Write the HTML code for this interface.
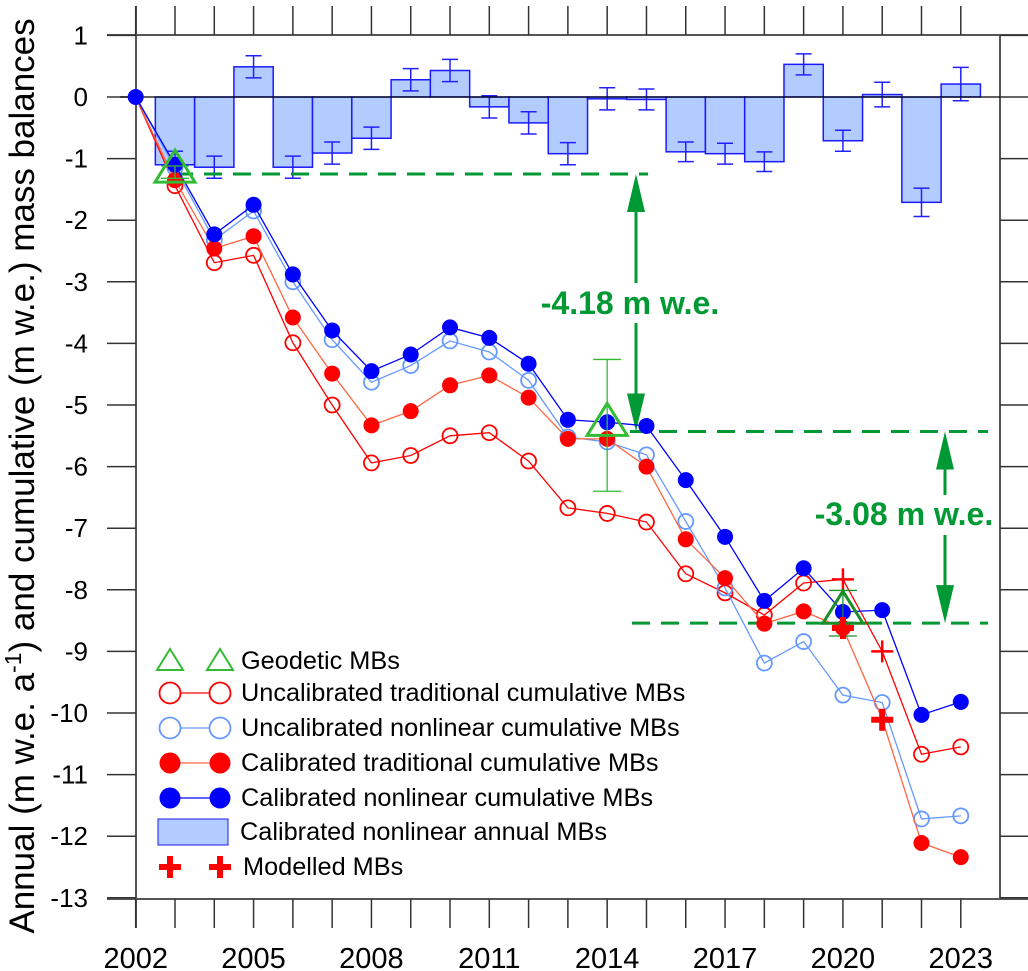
<!DOCTYPE html>
<html><head><meta charset="utf-8"><style>
html,body{margin:0;padding:0;background:#fff;}
svg{display:block;font-family:"Liberation Sans",Arial,sans-serif;}
</style></head><body>
<svg id="chart" width="1028" height="971" viewBox="0 0 1028 971"></svg>
<script>
const years = [2002,2003,2004,2005,2006,2007,2008,2009,2010,2011,2012,2013,2014,2015,2016,2017,2018,2019,2020,2021,2022,2023];
const annualYears = [2003,2004,2005,2006,2007,2008,2009,2010,2011,2012,2013,2014,2015,2016,2017,2018,2019,2020,2021,2022,2023];
const annualMB = [-1.10,-1.14,0.49,-1.14,-0.91,-0.67,0.28,0.43,-0.16,-0.42,-0.92,-0.03,-0.04,-0.89,-0.92,-1.05,0.53,-0.71,0.04,-1.71,0.21];
const annualErr = [0.22,0.18,0.18,0.18,0.18,0.18,0.18,0.18,0.18,0.18,0.18,0.18,0.17,0.16,0.17,0.16,0.17,0.17,0.2,0.23,0.27];
const calNonlin = [0,-1.10,-2.23,-1.75,-2.88,-3.79,-4.45,-4.18,-3.74,-3.91,-4.33,-5.24,-5.28,-5.34,-6.22,-7.14,-8.18,-7.65,-8.36,-8.33,-10.03,-9.82];
const uncalNonlin = [0,-1.15,-2.32,-1.85,-3.00,-3.94,-4.63,-4.36,-3.96,-4.14,-4.60,-5.52,-5.60,-5.81,-6.89,-7.97,-9.19,-8.84,-9.71,-9.83,-11.72,-11.67];
const calTrad = [0,-1.35,-2.46,-2.26,-3.58,-4.49,-5.33,-5.10,-4.68,-4.52,-4.88,-5.55,-5.55,-6.00,-7.18,-7.81,-8.55,-8.35,-8.62,-10.10,-12.11,-12.34];
const uncalTrad = [0,-1.44,-2.69,-2.57,-3.99,-5.00,-5.94,-5.82,-5.50,-5.45,-5.91,-6.67,-6.76,-6.90,-7.74,-8.05,-8.41,-7.89,-7.83,-9.00,-10.67,-10.55];
const geoYears = [2003,2014,2020];
const geoMB = [-1.22,-5.33,-8.38];
const geoErr = [0.1,1.07,0.37];
const modelYears = [2020,2021];
const modelMB = [-8.62,-10.11];
const yTicks = [1,0,-1,-2,-3,-4,-5,-6,-7,-8,-9,-10,-11,-12,-13];
const xLabels = [2002,2005,2008,2011,2014,2017,2020,2023];
const dashLevels = [-1.25,-5.43,-8.54];
const diffLabels = ["-4.18 m w.e.","-3.08 m w.e."];

const NS="http://www.w3.org/2000/svg";
const svg=document.getElementById('chart');
const X=y=>135.7+(y-2002)*39.29;
const Y=v=>97-v*61.6;
function el(tag,attrs,parent){const e=document.createElementNS(NS,tag);for(const k in attrs)e.setAttribute(k,attrs[k]);(parent||svg).appendChild(e);return e;}

const frame=el('g',{});


el('line',{x1:107,y1:35,x2:1028,y2:35,stroke:'#555','stroke-width':2},frame);
el('line',{x1:107,y1:899,x2:1028,y2:899,stroke:'#555','stroke-width':2},frame);
el('line',{x1:136,y1:6,x2:136,y2:928,stroke:'#555','stroke-width':2},frame);
el('line',{x1:1000,y1:35,x2:1000,y2:899,stroke:'#555','stroke-width':2},frame);
yTicks.forEach(t=>{
  el('line',{x1:107,y1:Y(t),x2:136,y2:Y(t),stroke:'#333','stroke-width':1.5},frame);
  el('line',{x1:1000,y1:Y(t),x2:1028,y2:Y(t),stroke:'#333','stroke-width':1.5},frame);
  const tx=el('text',{x:88,y:Y(t)+9,'text-anchor':'end','font-size':26,fill:'#000'});
  
  
  tx.textContent=String(t);
});
years.forEach(yr=>{
  el('line',{x1:X(yr),y1:6,x2:X(yr),y2:35,stroke:'#333','stroke-width':1.5},frame);
  el('line',{x1:X(yr),y1:899,x2:X(yr),y2:928,stroke:'#333','stroke-width':1.5},frame);
});
xLabels.forEach(yr=>{
  const tx=el('text',{x:X(yr),y:968,'text-anchor':'middle','font-size':29,fill:'#000'});
  
  
  tx.textContent=String(yr);
});
const yt=el('text',{x:0,y:0,'text-anchor':'middle','font-size':35,fill:'#000',transform:'translate(34,476) rotate(-90)'});


yt.innerHTML='Annual (m w.e. a<tspan dy="-13" font-size="23">-1</tspan><tspan dy="13">) and cumulative (m w.e.) mass balances</tspan>';

annualYears.forEach((yr,i)=>{
  const v=annualMB[i];
  const b=el('rect',{x:X(yr-0.5),y:Math.min(Y(v),Y(0)),width:39.29,height:Math.abs(Y(v)-Y(0)),fill:'#b3ccff',stroke:'#1a1aff','stroke-width':1.5});
  
  
  const e=annualErr[i];
  const g=el('g',{stroke:'#2020ff','stroke-width':1.5});
  
  
  el('line',{x1:X(yr),y1:Y(v+e),x2:X(yr),y2:Y(v-e)},g);
  el('line',{x1:X(yr)-8,y1:Y(v+e),x2:X(yr)+8,y2:Y(v+e)},g);
  el('line',{x1:X(yr)-8,y1:Y(v-e),x2:X(yr)+8,y2:Y(v-e)},g);
});
el('line',{x1:120,y1:Y(0),x2:1000,y2:Y(0),stroke:'#000','stroke-width':1.2});

const dash=[[175,648],[630,988],[632,988]];
dashLevels.forEach((lv,i)=>{
  const d=el('line',{x1:dash[i][0],y1:Y(lv),x2:dash[i][1],y2:Y(lv),stroke:'#009933','stroke-width':3,'stroke-dasharray':'18,11'});
  
  
});
function arrow(x,y1,y2,name){
  const g=el('g',{});
  
  
  el('line',{x1:x,y1:y1+30,x2:x,y2:y2-30,stroke:'#009933','stroke-width':3},g);
  el('polygon',{points:`${x},${y1} ${x-9},${y1+38} ${x+9},${y1+38}`,fill:'#009933'},g);
  el('polygon',{points:`${x},${y2} ${x-9},${y2-38} ${x+9},${y2-38}`,fill:'#009933'},g);
}
arrow(636,Y(dashLevels[0]),Y(dashLevels[1]),'difference-arrow-1');
arrow(945,Y(dashLevels[1]),Y(dashLevels[2]),'difference-arrow-2');
el('rect',{x:600,y:283,width:70,height:40,fill:'#fff'});
el('rect',{x:930,y:495,width:30,height:40,fill:'#fff'});
const t1=el('text',{x:630,y:314,'text-anchor':'middle','font-size':32,'font-weight':'bold',fill:'#009933'});


t1.textContent=diffLabels[0];
const t2=el('text',{x:904,y:525,'text-anchor':'middle','font-size':32,'font-weight':'bold',fill:'#009933'});


t2.textContent=diffLabels[1];

function series(vals,yrs,color,lineColor,filled,name,skip){
  const g=el('g',{});
  
  
  el('polyline',{points:yrs.map((y,i)=>X(y)+','+Y(vals[i])).join(' '),fill:'none',stroke:lineColor,'stroke-width':1.3},g);
  yrs.forEach((y,i)=>{
    if(skip&&skip.includes(y))return;
    const c=el('circle',{cx:X(y),cy:Y(vals[i]),r:filled?8:7.5,fill:filled?color:'#fff','fill-opacity':filled?1:0,stroke:color,'stroke-width':filled?0:1.8},g);
    
    
  });
}
series(uncalTrad,years,'#ff0000','#ff0000',false,'uncalibrated-traditional-series',[2002,2020,2021]);
series(uncalNonlin,years,'#6699ff','#6699ff',false,'uncalibrated-nonlinear-series',[2002]);
series(calTrad,years,'#ff0000','#ff6644',true,'calibrated-traditional-series',[2002,2021]);
series(calNonlin,years,'#0000ff','#0000ff',true,'calibrated-nonlinear-series',[]);

[2020,2021].forEach(yr=>{
  const i=years.indexOf(yr);
  const g=el('g',{stroke:'#ff0000','stroke-width':2.5});
  
  
  el('line',{x1:X(yr)-11,y1:Y(uncalTrad[i]),x2:X(yr)+11,y2:Y(uncalTrad[i])},g);
  el('line',{x1:X(yr),y1:Y(uncalTrad[i])-11,x2:X(yr),y2:Y(uncalTrad[i])+11},g);
});

geoYears.forEach((yr,i)=>{
  const g=el('g',{});
  
  
  const x=X(yr),y=Y(geoMB[i]),e=geoErr[i]*61.6;
  const col=i==2?'#1a8c2a':'#33bb33';
  el('line',{x1:x,y1:y-e,x2:x,y2:y+e,stroke:col,'stroke-width':1.3},g);
  el('line',{x1:x-14,y1:y-e,x2:x+14,y2:y-e,stroke:col,'stroke-width':1.3},g);
  el('line',{x1:x-14,y1:y+e,x2:x+14,y2:y+e,stroke:col,'stroke-width':1.3},g);
  el('polygon',{points:`${x},${y-22} ${x-20},${y+10} ${x+20},${y+10}`,fill:'none',stroke:col,'stroke-width':3},g);
});

modelYears.forEach((yr,i)=>{
  const g=el('g',{stroke:'#ff0000','stroke-width':6});
  
  
  const x=X(yr),y=Y(modelMB[i]);
  el('line',{x1:x-11,y1:y,x2:x+11,y2:y},g);
  el('line',{x1:x,y1:y-11,x2:x,y2:y+11},g);
});

const lg=el('g',{});


const rows=[
 ['Geodetic MBs','tri'],['Uncalibrated traditional cumulative MBs','ored'],['Uncalibrated nonlinear cumulative MBs','oblue'],
 ['Calibrated traditional cumulative MBs','fred'],['Calibrated nonlinear cumulative MBs','fblue'],['Calibrated nonlinear annual MBs','bar'],['Modelled MBs','cross']];
const ry=[661,693,728,763,798,832,867];
rows.forEach((r,i)=>{
  const g=el('g',{},lg);
  
  
  const y=ry[i],a=170,b=220;
  if(r[1]=='tri'){[a,b].forEach(x=>el('polygon',{points:`${x},${y-12} ${x-13},${y+9} ${x+13},${y+9}`,fill:'none',stroke:'#33bb33','stroke-width':2},g));}
  else if(r[1]=='bar'){el('rect',{x:158,y:y-13,width:70,height:26,fill:'#b3ccff',stroke:'#1a1aff','stroke-width':1},g);}
  else if(r[1]=='cross'){[a,b].forEach(x=>{el('line',{x1:x-11,y1:y,x2:x+11,y2:y,stroke:'#f00','stroke-width':6},g);el('line',{x1:x,y1:y-11,x2:x,y2:y+11,stroke:'#f00','stroke-width':6},g);});}
  else{
    const col=r[1].includes('red')?'#ff0000':(r[1]=='oblue'?'#6699ff':'#0000ff');
    const lc=r[1]=='fred'?'#ff6644':col;
    const f=r[1][0]=='f';
    el('line',{x1:a,y1:y,x2:b,y2:y,stroke:lc,'stroke-width':1.3},g);
    [a,b].forEach(x=>el('circle',{cx:x,cy:y,r:10.5,fill:f?col:'#fff',stroke:col,'stroke-width':f?0:1.8},g));
  }
  const t=el('text',{x:r[1]=='bar'?240:(r[1]=='cross'?243:241),y:y+8,'font-size':25.3,fill:'#000'},g);
  t.textContent=r[0];
});
</script>
</body></html>
